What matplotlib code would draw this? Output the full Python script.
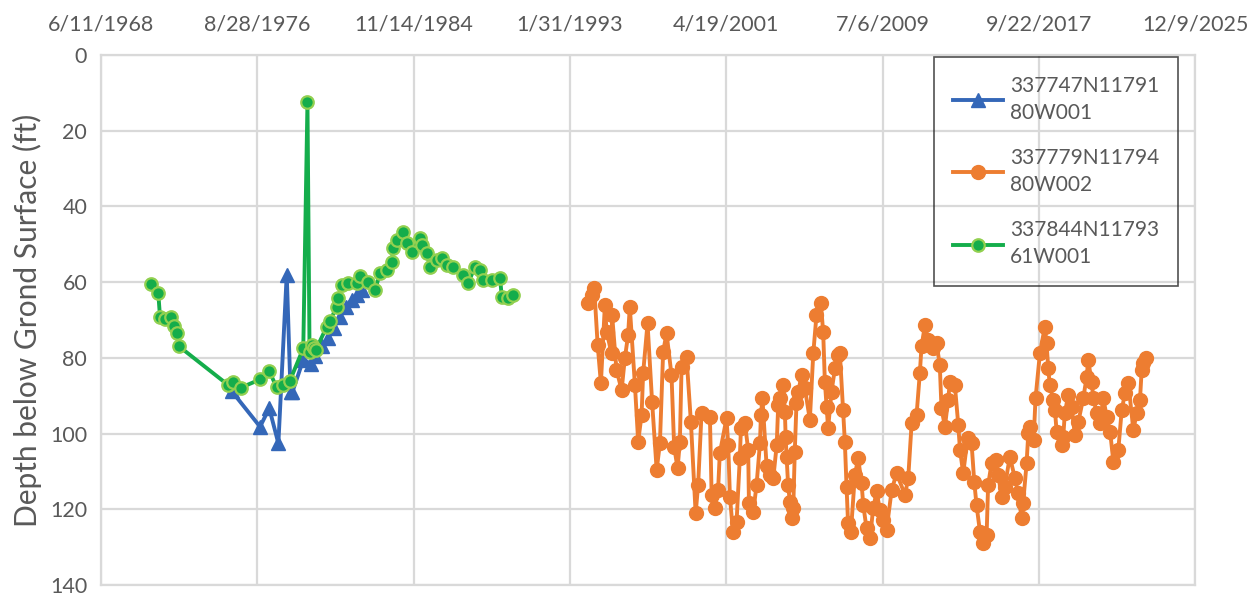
from datetime import datetime, timedelta

import matplotlib
matplotlib.use("Agg")
import matplotlib.pyplot as plt
import matplotlib.dates as mdates
from matplotlib.ticker import FixedLocator, FuncFormatter

plt.rcParams["font.family"] = ["Lato", "DejaVu Sans"]

# well 337747N1179180W001 (decimal year, depth ft)
blue_years = [1975.31, 1976.80, 1977.28, 1977.76, 1978.20, 1978.40, 1978.50,
              1979.07, 1979.45, 1979.70, 1980.05, 1980.38, 1980.68, 1981.00,
              1981.32, 1981.61, 1981.90, 1982.14]
blue_depth = [88.8, 98.2, 93.3, 102.6, 58.0, 89.0, 89.0,
              80.5, 81.5, 79.5, 77.0, 74.8, 72.0, 69.1,
              66.5, 64.7, 63.5, 62.1]

# well 337779N1179480W002
orange_years = [
    1994.04, 1994.22, 1994.36, 1994.54, 1994.71, 1994.92, 1995.01, 1995.27, 1995.30, 1995.53,
    1995.80, 1995.97, 1996.14, 1996.23, 1996.50, 1996.67, 1996.85, 1996.93, 1997.16, 1997.40,
    1997.64, 1997.81, 1997.98, 1998.16, 1998.42, 1998.56, 1998.74, 1998.86, 1998.95, 1999.21,
    1999.44, 1999.69, 1999.82, 2000.00, 2000.44, 2000.53, 2000.70, 2000.87, 2000.96, 2001.31,
    2001.40, 2001.49, 2001.65, 2001.84, 2002.01, 2002.07, 2002.28, 2002.45, 2002.49, 2002.72,
    2002.89, 2003.07, 2003.12, 2003.20, 2003.42, 2003.59, 2003.77, 2003.95, 2004.03, 2004.12,
    2004.29, 2004.38, 2004.42, 2004.47, 2004.55, 2004.64, 2004.73, 2004.82, 2004.90, 2004.99,
    2005.08, 2005.26, 2005.43, 2005.69, 2005.87, 2006.04, 2006.27, 2006.39, 2006.48, 2006.57,
    2006.65, 2006.83, 2007.01, 2007.18, 2007.27, 2007.44, 2007.53, 2007.62, 2007.70, 2007.85,
    2008.06, 2008.23, 2008.41, 2008.50, 2008.67, 2008.85, 2009.02, 2009.20, 2009.37, 2009.53,
    2009.72, 2009.99, 2010.25, 2010.69, 2010.86, 2011.04, 2011.30, 2011.47, 2011.56, 2011.74,
    2011.91, 2012.17, 2012.35, 2012.52, 2012.61, 2012.79, 2012.96, 2013.05, 2013.31, 2013.49,
    2013.58, 2013.75, 2013.98, 2014.19, 2014.33, 2014.45, 2014.63, 2014.80, 2014.98, 2015.06,
    2015.24, 2015.50, 2015.59, 2015.77, 2015.94, 2016.20, 2016.47, 2016.64, 2016.82, 2016.90,
    2017.08, 2017.17, 2017.25, 2017.45, 2017.55, 2017.78, 2018.04, 2018.13, 2018.22, 2018.30,
    2018.48, 2018.57, 2018.66, 2018.92, 2019.01, 2019.09, 2019.27, 2019.45, 2019.62, 2019.80,
    2020.06, 2020.24, 2020.32, 2020.50, 2020.59, 2020.77, 2020.94, 2021.11, 2021.29, 2021.47,
    2021.64, 2021.90, 2022.08, 2022.25, 2022.43, 2022.69, 2022.87, 2023.04, 2023.13, 2023.22,
    2023.34,
]
orange_depth = [
    65.6, 63.4, 61.6, 76.6, 86.7, 66.0, 73.1, 78.8, 68.7, 83.2,
    88.5, 80.1, 74.0, 66.5, 87.2, 102.1, 95.1, 84.1, 70.9, 91.6,
    109.6, 102.6, 78.4, 73.5, 84.5, 103.5, 109.2, 102.1, 82.3, 79.7,
    96.9, 121.1, 113.6, 94.6, 95.5, 116.2, 119.7, 114.9, 105.2, 96.0,
    103.0, 116.7, 125.9, 123.3, 106.5, 98.6, 97.3, 104.3, 118.4, 120.6,
    113.6, 102.6, 95.1, 90.7, 108.7, 110.9, 111.8, 103.0, 92.4, 90.7,
    87.2, 94.2, 100.8, 106.1, 113.6, 118.0, 122.4, 119.7, 104.8, 92.0,
    88.9, 84.5, 88.0, 96.4, 78.8, 68.7, 65.6, 73.1, 86.3, 92.9,
    98.6, 88.9, 82.8, 79.2, 78.8, 93.8, 102.1, 114.0, 123.7, 125.9,
    110.9, 106.5, 113.1, 118.9, 125.0, 127.7, 119.7, 115.3, 120.2, 122.8,
    125.5, 114.9, 110.5, 116.2, 111.8, 97.3, 95.1, 84.1, 77.0, 71.3,
    75.3, 77.5, 76.2, 81.9, 93.3, 98.2, 91.1, 86.3, 87.2, 97.7,
    104.3, 110.5, 101.2, 102.6, 112.7, 118.9, 125.9, 129.0, 126.8, 113.6,
    107.9, 107.0, 110.9, 116.7, 114.0, 106.1, 111.8, 115.8, 122.4, 118.4,
    107.9, 99.9, 98.2, 101.7, 90.7, 78.8, 71.8, 76.2, 82.8, 87.2,
    91.1, 93.8, 99.5, 103.0, 100.8, 94.6, 89.8, 92.9, 100.4, 96.9,
    90.7, 85.0, 80.6, 86.3, 90.7, 94.6, 97.3, 90.7, 95.5, 99.5,
    107.4, 104.3, 93.8, 89.4, 86.7, 99.0, 94.6, 91.1, 83.2, 81.4,
    80.1,
]

# well 337844N1179361W001
green_years = [
    1971.05, 1971.45, 1971.54, 1971.80, 1972.10, 1972.28, 1972.45, 1972.55, 1975.13, 1975.39,
    1975.78, 1976.80, 1977.27, 1977.67, 1978.02, 1978.37, 1979.07, 1979.29, 1979.40, 1979.51,
    1979.62, 1979.72, 1980.30, 1980.47, 1980.82, 1980.91, 1981.09, 1981.44, 1981.88, 1982.05,
    1982.49, 1982.84, 1983.10, 1983.45, 1983.72, 1983.80, 1983.98, 1984.33, 1984.50, 1984.77,
    1985.20, 1985.29, 1985.56, 1985.73, 1986.08, 1986.34, 1986.61, 1986.95, 1987.48, 1987.74,
    1988.09, 1988.36, 1988.53, 1988.97, 1989.41, 1989.50, 1989.84, 1990.11,
]
green_depth = [
    60.5, 62.9, 69.1, 69.8, 69.1, 71.6, 73.5, 77.0, 87.2, 86.3,
    87.9, 85.7, 83.4, 87.8, 87.2, 86.0, 77.5, 12.5, 78.5, 76.6,
    77.5, 78.0, 71.8, 70.4, 66.5, 64.3, 60.8, 60.3, 60.3, 58.5,
    59.9, 62.1, 57.7, 56.8, 54.6, 51.1, 48.9, 46.7, 49.7, 52.0,
    48.4, 50.2, 52.4, 55.9, 54.1, 53.7, 55.5, 55.9, 58.1, 60.3,
    55.9, 56.8, 59.4, 59.4, 59.0, 63.8, 64.3, 63.4,
]

series_labels = ["337747N11791\n80W001", "337779N11794\n80W002", "337844N11793\n61W001"]


def to_date(year):
    whole = int(year)
    return datetime(whole, 1, 1) + timedelta(days=(year - whole) * 365.25)


text_color = "#595959"
grid_color = "#d9d9d9"

fig = plt.figure(figsize=(12.6, 5.93), dpi=100)
ax = fig.add_axes([0.0802, 0.0135, 0.8683, 0.8938])

ax.plot([to_date(y) for y in blue_years], blue_depth, color="#3467b8", linewidth=2.8,
        marker="^", markersize=9.5, markeredgecolor="#3467b8", label=series_labels[0])
ax.plot([to_date(y) for y in orange_years], orange_depth, color="#ed7d31", linewidth=2.8,
        marker="o", markersize=10, markeredgecolor="#ed7d31", label=series_labels[1])
ax.plot([to_date(y) for y in green_years], green_depth, color="#14ad4b", linewidth=2.8,
        marker="o", markersize=9, markerfacecolor="#14ad4b", markeredgecolor="#92d050",
        markeredgewidth=1.6, label=series_labels[2])

start = datetime(1968, 6, 11)
tick_dates = [start + timedelta(days=3000 * k) for k in range(8)]
ax.set_xlim(tick_dates[0], tick_dates[-1])
ax.xaxis.set_major_locator(FixedLocator(mdates.date2num(tick_dates)))
ax.xaxis.set_major_formatter(FuncFormatter(
    lambda v, pos: (lambda d: f"{d.month}/{d.day}/{d.year}")(mdates.num2date(v))))
ax.xaxis.tick_top()

ax.set_ylim(140, 0)
ax.set_yticks(range(0, 141, 20))

ax.tick_params(axis="x", length=0, pad=15, labelsize=15.5, colors=text_color)
ax.tick_params(axis="y", length=0, pad=10, labelsize=15.5, colors=text_color)
ax.grid(True, color=grid_color, linewidth=1.6)
ax.set_axisbelow(True)
for side, spine in ax.spines.items():
    spine.set_color(grid_color)
    spine.set_linewidth(1.6)

ax.set_ylabel("Depth below Grond Surface (ft)", fontsize=21.5, color=text_color, labelpad=6)

legend = ax.legend(loc="upper right", bbox_to_anchor=(0.9845, 0.996), borderaxespad=0,
                   fontsize=15, frameon=True, fancybox=False, handlelength=2.4,
                   handletextpad=0.35, labelcolor=text_color, labelspacing=1.2,
                   borderpad=0.9)
for text in legend.get_texts():
    text.set_linespacing(1.45)
legend.get_frame().set_facecolor("none")
legend.get_frame().set_edgecolor("#262626")
legend.get_frame().set_linewidth(1.2)

fig.savefig("out.png", dpi=100)
